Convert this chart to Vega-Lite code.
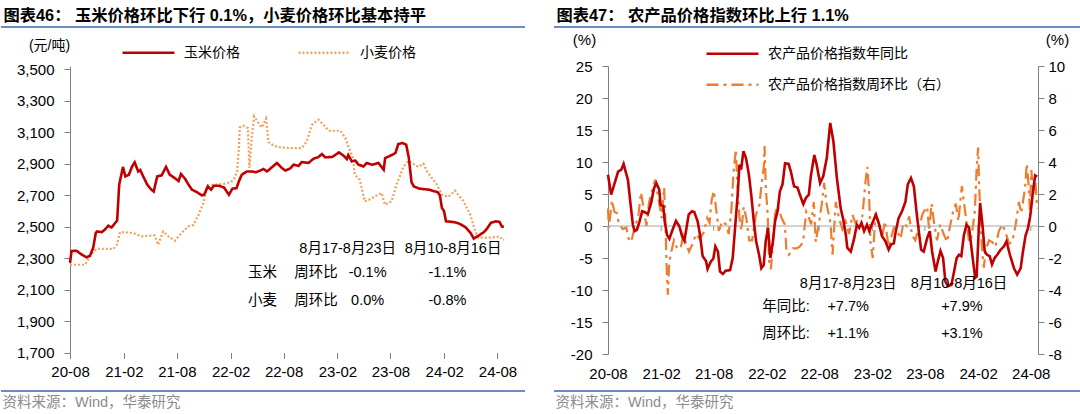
{
"$schema":"https://vega.github.io/schema/vega-lite/v6.json",
"background":"white",
"padding":{"left":0,"top":8,"right":0,"bottom":0},
"datasets":{
"corn":[{"d":"2020-08-01","v":2270},{"d":"2020-08-06","v":2345},{"d":"2020-08-23","v":2347},{"d":"2020-09-10","v":2322},{"d":"2020-09-27","v":2305},{"d":"2020-10-08","v":2315},{"d":"2020-10-19","v":2365},{"d":"2020-10-28","v":2460},{"d":"2020-11-02","v":2470},{"d":"2020-11-17","v":2465},{"d":"2020-11-28","v":2481},{"d":"2020-12-10","v":2506},{"d":"2020-12-21","v":2495},{"d":"2021-01-05","v":2530},{"d":"2021-01-09","v":2540},{"d":"2021-01-16","v":2767},{"d":"2021-01-29","v":2880},{"d":"2021-02-06","v":2820},{"d":"2021-02-18","v":2830},{"d":"2021-03-01","v":2883},{"d":"2021-03-10","v":2909},{"d":"2021-03-22","v":2851},{"d":"2021-03-29","v":2860},{"d":"2021-04-08","v":2820},{"d":"2021-04-22","v":2767},{"d":"2021-05-06","v":2735},{"d":"2021-05-14","v":2724},{"d":"2021-05-26","v":2820},{"d":"2021-06-10","v":2826},{"d":"2021-06-25","v":2880},{"d":"2021-07-08","v":2830},{"d":"2021-07-20","v":2815},{"d":"2021-08-01","v":2799},{"d":"2021-08-07","v":2790},{"d":"2021-08-15","v":2835},{"d":"2021-08-29","v":2805},{"d":"2021-09-10","v":2767},{"d":"2021-09-22","v":2735},{"d":"2021-10-08","v":2720},{"d":"2021-10-26","v":2699},{"d":"2021-11-03","v":2705},{"d":"2021-11-15","v":2756},{"d":"2021-11-26","v":2735},{"d":"2021-12-05","v":2760},{"d":"2021-12-22","v":2760},{"d":"2022-01-09","v":2750},{"d":"2022-01-26","v":2703},{"d":"2022-02-07","v":2742},{"d":"2022-02-21","v":2745},{"d":"2022-03-01","v":2788},{"d":"2022-03-11","v":2830},{"d":"2022-03-28","v":2851},{"d":"2022-04-14","v":2851},{"d":"2022-04-29","v":2846},{"d":"2022-05-13","v":2857},{"d":"2022-05-24","v":2867},{"d":"2022-06-05","v":2851},{"d":"2022-06-19","v":2873},{"d":"2022-07-09","v":2905},{"d":"2022-07-26","v":2873},{"d":"2022-08-07","v":2857},{"d":"2022-08-23","v":2870},{"d":"2022-09-04","v":2894},{"d":"2022-09-21","v":2886},{"d":"2022-10-02","v":2911},{"d":"2022-10-25","v":2905},{"d":"2022-11-11","v":2932},{"d":"2022-11-28","v":2943},{"d":"2022-12-10","v":2962},{"d":"2022-12-21","v":2941},{"d":"2023-01-14","v":2943},{"d":"2023-02-06","v":2972},{"d":"2023-02-23","v":2950},{"d":"2023-03-05","v":2930},{"d":"2023-03-10","v":2955},{"d":"2023-03-22","v":2915},{"d":"2023-04-03","v":2920},{"d":"2023-04-14","v":2894},{"d":"2023-05-01","v":2883},{"d":"2023-05-12","v":2905},{"d":"2023-05-30","v":2894},{"d":"2023-06-21","v":2905},{"d":"2023-07-09","v":2862},{"d":"2023-07-14","v":2936},{"d":"2023-08-07","v":2957},{"d":"2023-08-18","v":2968},{"d":"2023-08-28","v":3026},{"d":"2023-09-11","v":3032},{"d":"2023-09-24","v":3021},{"d":"2023-10-03","v":2936},{"d":"2023-10-12","v":2784},{"d":"2023-10-20","v":2756},{"d":"2023-11-07","v":2742},{"d":"2023-12-11","v":2735},{"d":"2024-01-09","v":2720},{"d":"2024-01-17","v":2700},{"d":"2024-01-24","v":2619},{"d":"2024-01-31","v":2600},{"d":"2024-02-07","v":2534},{"d":"2024-03-01","v":2530},{"d":"2024-03-17","v":2524},{"d":"2024-03-28","v":2515},{"d":"2024-04-14","v":2496},{"d":"2024-05-01","v":2460},{"d":"2024-05-12","v":2424},{"d":"2024-05-30","v":2445},{"d":"2024-06-16","v":2466},{"d":"2024-06-27","v":2490},{"d":"2024-07-09","v":2524},{"d":"2024-07-26","v":2534},{"d":"2024-08-08","v":2530},{"d":"2024-08-16","v":2501},{"d":"2024-08-23","v":2499}],
"wheat":[{"d":"2020-08-01","v":2258},{"d":"2020-09-21","v":2258},{"d":"2020-10-08","v":2311},{"d":"2020-10-31","v":2360},{"d":"2020-12-27","v":2358},{"d":"2021-01-08","v":2385},{"d":"2021-01-19","v":2466},{"d":"2021-03-04","v":2460},{"d":"2021-04-02","v":2439},{"d":"2021-05-17","v":2445},{"d":"2021-05-29","v":2385},{"d":"2021-06-15","v":2470},{"d":"2021-07-02","v":2440},{"d":"2021-07-25","v":2411},{"d":"2021-08-17","v":2460},{"d":"2021-09-09","v":2502},{"d":"2021-09-27","v":2512},{"d":"2021-10-14","v":2576},{"d":"2021-10-31","v":2650},{"d":"2021-11-12","v":2761},{"d":"2021-12-05","v":2767},{"d":"2022-01-08","v":2772},{"d":"2022-01-31","v":2783},{"d":"2022-02-12","v":2799},{"d":"2022-02-23","v":2851},{"d":"2022-03-01","v":3000},{"d":"2022-03-04","v":3131},{"d":"2022-03-16","v":3142},{"d":"2022-04-01","v":3127},{"d":"2022-04-06","v":2873},{"d":"2022-04-14","v":3064},{"d":"2022-04-22","v":3201},{"d":"2022-05-07","v":3159},{"d":"2022-05-18","v":3131},{"d":"2022-06-02","v":3187},{"d":"2022-06-10","v":3038},{"d":"2022-06-27","v":3017},{"d":"2022-07-20","v":3004},{"d":"2022-08-18","v":3000},{"d":"2022-10-02","v":3000},{"d":"2022-10-19","v":3042},{"d":"2022-11-06","v":3148},{"d":"2022-11-28","v":3180},{"d":"2022-12-14","v":3150},{"d":"2023-01-02","v":3110},{"d":"2023-02-11","v":3110},{"d":"2023-02-28","v":3064},{"d":"2023-03-09","v":3015},{"d":"2023-03-26","v":2937},{"d":"2023-04-01","v":2831},{"d":"2023-04-18","v":2799},{"d":"2023-05-05","v":2661},{"d":"2023-05-19","v":2670},{"d":"2023-06-09","v":2693},{"d":"2023-07-02","v":2714},{"d":"2023-07-13","v":2640},{"d":"2023-08-05","v":2661},{"d":"2023-08-22","v":2767},{"d":"2023-09-15","v":2883},{"d":"2023-10-01","v":2918},{"d":"2023-10-18","v":2901},{"d":"2023-11-04","v":2880},{"d":"2023-11-22","v":2901},{"d":"2023-12-04","v":2851},{"d":"2024-01-07","v":2767},{"d":"2024-01-24","v":2703},{"d":"2024-02-15","v":2690},{"d":"2024-03-09","v":2729},{"d":"2024-03-21","v":2700},{"d":"2024-04-07","v":2661},{"d":"2024-04-30","v":2576},{"d":"2024-05-17","v":2470},{"d":"2024-05-28","v":2430},{"d":"2024-07-02","v":2430},{"d":"2024-08-09","v":2437},{"d":"2024-08-16","v":2418},{"d":"2024-08-23","v":2418}],
"ltext":[{"t":"8月17-8月23日","d":"2023-03-08","v":2360},{"t":"8月10-8月16日","d":"2024-03-02","v":2360},{"t":"玉米","d":"2022-05-21","v":2208},{"t":"周环比","d":"2022-11-20","v":2208},{"t":"-0.1%","d":"2023-05-15","v":2208},{"t":"-1.1%","d":"2024-02-12","v":2208},{"t":"小麦","d":"2022-05-21","v":2030},{"t":"周环比","d":"2022-11-20","v":2030},{"t":"0.0%","d":"2023-05-15","v":2030},{"t":"-0.8%","d":"2024-02-12","v":2030}],
"yoy":[{"d":"2020-08-01","v":8.0},{"d":"2020-08-12","v":4.9},{"d":"2020-08-24","v":6.7},{"d":"2020-09-05","v":8.5},{"d":"2020-09-16","v":8.8},{"d":"2020-09-24","v":9.7},{"d":"2020-10-01","v":8.5},{"d":"2020-10-09","v":7.2},{"d":"2020-10-17","v":3.8},{"d":"2020-10-26","v":0.2},{"d":"2020-11-01","v":-0.8},{"d":"2020-11-09","v":-0.6},{"d":"2020-11-18","v":0.7},{"d":"2020-11-27","v":2.3},{"d":"2020-12-09","v":2.1},{"d":"2020-12-17","v":1.9},{"d":"2020-12-28","v":3.6},{"d":"2021-01-07","v":5.9},{"d":"2021-01-15","v":6.7},{"d":"2021-01-25","v":5.7},{"d":"2021-01-30","v":3.3},{"d":"2021-02-08","v":3.1},{"d":"2021-02-13","v":0.7},{"d":"2021-02-21","v":-1.4},{"d":"2021-03-01","v":-2.0},{"d":"2021-03-12","v":-0.6},{"d":"2021-03-24","v":0.8},{"d":"2021-04-05","v":-0.1},{"d":"2021-04-14","v":-1.6},{"d":"2021-04-22","v":-2.3},{"d":"2021-05-07","v":1.8},{"d":"2021-05-18","v":2.3},{"d":"2021-05-26","v":2.2},{"d":"2021-06-07","v":0.7},{"d":"2021-06-15","v":-1.4},{"d":"2021-06-24","v":-4.7},{"d":"2021-07-06","v":-5.5},{"d":"2021-07-11","v":-6.7},{"d":"2021-07-23","v":-5.5},{"d":"2021-07-31","v":-5.1},{"d":"2021-08-07","v":-3.2},{"d":"2021-08-16","v":-4.0},{"d":"2021-08-23","v":-7.1},{"d":"2021-09-02","v":-7.5},{"d":"2021-09-11","v":-7.0},{"d":"2021-09-27","v":-6.9},{"d":"2021-10-06","v":-5.0},{"d":"2021-10-15","v":0.2},{"d":"2021-10-24","v":5.4},{"d":"2021-10-29","v":9.6},{"d":"2021-11-04","v":8.8},{"d":"2021-11-12","v":11.7},{"d":"2021-11-21","v":10.6},{"d":"2021-12-01","v":8.0},{"d":"2021-12-09","v":4.9},{"d":"2021-12-18","v":0.7},{"d":"2021-12-26","v":-2.4},{"d":"2022-01-05","v":-4.5},{"d":"2022-01-13","v":-6.6},{"d":"2022-01-21","v":-6.1},{"d":"2022-01-28","v":-2.4},{"d":"2022-02-05","v":-0.3},{"d":"2022-02-13","v":-5.0},{"d":"2022-02-22","v":-2.4},{"d":"2022-03-01","v":0.7},{"d":"2022-03-10","v":2.3},{"d":"2022-03-18","v":5.4},{"d":"2022-03-27","v":6.5},{"d":"2022-04-05","v":9.8},{"d":"2022-04-17","v":9.7},{"d":"2022-04-25","v":8.5},{"d":"2022-05-06","v":6.2},{"d":"2022-05-18","v":6.0},{"d":"2022-05-26","v":4.9},{"d":"2022-06-07","v":3.4},{"d":"2022-06-16","v":4.4},{"d":"2022-06-26","v":4.9},{"d":"2022-07-03","v":7.8},{"d":"2022-07-15","v":11.1},{"d":"2022-07-23","v":9.6},{"d":"2022-08-04","v":6.7},{"d":"2022-08-15","v":7.8},{"d":"2022-08-27","v":10.6},{"d":"2022-09-08","v":16.1},{"d":"2022-09-19","v":13.2},{"d":"2022-10-01","v":7.5},{"d":"2022-10-14","v":2.8},{"d":"2022-10-23","v":1.0},{"d":"2022-11-01","v":-1.4},{"d":"2022-11-06","v":-3.4},{"d":"2022-11-18","v":-4.0},{"d":"2022-11-30","v":-1.9},{"d":"2022-12-09","v":0.2},{"d":"2022-12-17","v":-0.3},{"d":"2022-12-25","v":0.5},{"d":"2023-01-03","v":-0.8},{"d":"2023-01-13","v":0.2},{"d":"2023-01-21","v":-0.8},{"d":"2023-02-01","v":0.5},{"d":"2023-02-13","v":1.8},{"d":"2023-02-24","v":0.2},{"d":"2023-03-06","v":-1.6},{"d":"2023-03-18","v":-2.4},{"d":"2023-03-29","v":-3.7},{"d":"2023-04-06","v":-2.9},{"d":"2023-04-16","v":-2.7},{"d":"2023-04-21","v":-1.2},{"d":"2023-05-02","v":1.2},{"d":"2023-05-14","v":2.3},{"d":"2023-05-26","v":3.8},{"d":"2023-06-03","v":6.5},{"d":"2023-06-14","v":7.5},{"d":"2023-06-24","v":6.2},{"d":"2023-07-03","v":2.3},{"d":"2023-07-11","v":-0.8},{"d":"2023-07-19","v":-3.7},{"d":"2023-07-28","v":-4.0},{"d":"2023-08-09","v":-1.9},{"d":"2023-08-18","v":-0.8},{"d":"2023-08-26","v":-4.0},{"d":"2023-09-07","v":-7.1},{"d":"2023-09-15","v":-5.5},{"d":"2023-09-24","v":-3.9},{"d":"2023-10-03","v":-5.0},{"d":"2023-10-11","v":-8.7},{"d":"2023-10-20","v":-9.4},{"d":"2023-11-01","v":-9.2},{"d":"2023-11-10","v":-7.1},{"d":"2023-11-19","v":-5.0},{"d":"2023-11-27","v":-4.5},{"d":"2023-12-05","v":-4.7},{"d":"2023-12-14","v":-1.4},{"d":"2023-12-23","v":0.2},{"d":"2024-01-01","v":-0.3},{"d":"2024-01-09","v":-3.4},{"d":"2024-01-16","v":-6.0},{"d":"2024-01-22","v":-8.1},{"d":"2024-01-27","v":-7.9},{"d":"2024-02-03","v":-0.8},{"d":"2024-02-08","v":3.6},{"d":"2024-02-16","v":0.2},{"d":"2024-02-24","v":-4.0},{"d":"2024-03-03","v":-4.5},{"d":"2024-03-12","v":-4.7},{"d":"2024-03-20","v":-6.0},{"d":"2024-03-29","v":-5.0},{"d":"2024-04-07","v":-4.5},{"d":"2024-04-19","v":-3.7},{"d":"2024-04-30","v":-3.2},{"d":"2024-05-09","v":-2.4},{"d":"2024-05-21","v":-4.5},{"d":"2024-06-04","v":-6.6},{"d":"2024-06-15","v":-7.6},{"d":"2024-06-27","v":-6.6},{"d":"2024-07-05","v":-4.0},{"d":"2024-07-14","v":-1.5},{"d":"2024-07-22","v":-0.4},{"d":"2024-07-30","v":1.5},{"d":"2024-08-08","v":5.1},{"d":"2024-08-16","v":7.9},{"d":"2024-08-23","v":7.7}],
"wow":[{"d":"2020-08-01","v":1.1},{"d":"2020-08-04","v":-0.1},{"d":"2020-08-15","v":1.6},{"d":"2020-08-23","v":0.9},{"d":"2020-09-01","v":0.8},{"d":"2020-09-07","v":0.2},{"d":"2020-09-21","v":-0.2},{"d":"2020-10-03","v":-0.1},{"d":"2020-10-14","v":-1.0},{"d":"2020-10-23","v":-0.8},{"d":"2020-11-02","v":0.0},{"d":"2020-11-13","v":0.5},{"d":"2020-11-23","v":2.1},{"d":"2020-12-03","v":1.0},{"d":"2020-12-12","v":0.0},{"d":"2020-12-21","v":1.5},{"d":"2021-01-02","v":2.3},{"d":"2021-01-11","v":2.9},{"d":"2021-01-16","v":2.4},{"d":"2021-01-24","v":1.5},{"d":"2021-02-03","v":0.5},{"d":"2021-02-11","v":2.4},{"d":"2021-02-15","v":0.5},{"d":"2021-02-20","v":-2.8},{"d":"2021-02-24","v":-4.3},{"d":"2021-02-28","v":-2.5},{"d":"2021-03-05","v":-1.8},{"d":"2021-03-17","v":-0.9},{"d":"2021-03-28","v":-1.4},{"d":"2021-04-09","v":-1.4},{"d":"2021-04-18","v":-0.6},{"d":"2021-04-26","v":-1.0},{"d":"2021-05-08","v":-1.6},{"d":"2021-05-21","v":-1.1},{"d":"2021-06-01","v":-0.5},{"d":"2021-06-14","v":-0.8},{"d":"2021-06-28","v":-0.4},{"d":"2021-07-10","v":0.5},{"d":"2021-07-18","v":0.2},{"d":"2021-07-25","v":1.6},{"d":"2021-08-02","v":2.2},{"d":"2021-08-08","v":1.3},{"d":"2021-08-19","v":-0.3},{"d":"2021-08-31","v":0.3},{"d":"2021-09-13","v":0.1},{"d":"2021-09-22","v":-0.5},{"d":"2021-10-01","v":0.9},{"d":"2021-10-09","v":3.4},{"d":"2021-10-17","v":4.8},{"d":"2021-10-22","v":2.6},{"d":"2021-10-29","v":0.6},{"d":"2021-11-05","v":-0.3},{"d":"2021-11-13","v":1.2},{"d":"2021-11-22","v":0.5},{"d":"2021-12-02","v":-0.9},{"d":"2021-12-12","v":-0.9},{"d":"2021-12-25","v":0.7},{"d":"2022-01-06","v":1.3},{"d":"2022-01-15","v":2.8},{"d":"2022-01-22","v":3.8},{"d":"2022-01-24","v":5.0},{"d":"2022-01-29","v":2.2},{"d":"2022-02-04","v":0.7},{"d":"2022-02-09","v":-2.2},{"d":"2022-02-15","v":-2.7},{"d":"2022-02-21","v":-1.3},{"d":"2022-03-01","v":0.7},{"d":"2022-03-10","v":1.3},{"d":"2022-03-24","v":0.5},{"d":"2022-04-04","v":0.1},{"d":"2022-04-10","v":-1.6},{"d":"2022-04-18","v":-1.8},{"d":"2022-05-02","v":-1.4},{"d":"2022-05-14","v":-1.4},{"d":"2022-05-25","v":-1.3},{"d":"2022-06-06","v":-1.0},{"d":"2022-06-17","v":0.9},{"d":"2022-06-25","v":0.6},{"d":"2022-07-04","v":0.1},{"d":"2022-07-13","v":1.5},{"d":"2022-07-20","v":-1.0},{"d":"2022-08-01","v":0.3},{"d":"2022-08-10","v":1.4},{"d":"2022-08-18","v":2.7},{"d":"2022-08-26","v":1.4},{"d":"2022-09-02","v":0.8},{"d":"2022-09-09","v":0.2},{"d":"2022-09-16","v":-1.8},{"d":"2022-09-27","v":1.5},{"d":"2022-10-08","v":0.5},{"d":"2022-10-20","v":-0.2},{"d":"2022-10-31","v":0.3},{"d":"2022-11-12","v":-0.5},{"d":"2022-11-24","v":0.7},{"d":"2022-12-04","v":0.2},{"d":"2022-12-14","v":0.4},{"d":"2022-12-28","v":0.6},{"d":"2023-01-08","v":2.8},{"d":"2023-01-14","v":3.7},{"d":"2023-01-20","v":2.2},{"d":"2023-01-25","v":-1.0},{"d":"2023-02-02","v":-2.0},{"d":"2023-02-11","v":0.6},{"d":"2023-02-22","v":0.3},{"d":"2023-03-06","v":-0.7},{"d":"2023-03-16","v":0.3},{"d":"2023-03-29","v":-1.3},{"d":"2023-04-16","v":-0.1},{"d":"2023-04-27","v":-0.3},{"d":"2023-05-09","v":-0.8},{"d":"2023-05-19","v":0.2},{"d":"2023-05-30","v":0.0},{"d":"2023-06-08","v":0.6},{"d":"2023-06-18","v":-0.6},{"d":"2023-06-29","v":-0.9},{"d":"2023-07-11","v":-0.1},{"d":"2023-07-25","v":0.8},{"d":"2023-08-09","v":1.2},{"d":"2023-08-16","v":-0.3},{"d":"2023-08-24","v":1.4},{"d":"2023-09-02","v":0.2},{"d":"2023-09-12","v":-0.9},{"d":"2023-09-23","v":0.1},{"d":"2023-10-05","v":-0.5},{"d":"2023-10-17","v":-1.0},{"d":"2023-10-27","v":0.0},{"d":"2023-11-08","v":1.0},{"d":"2023-11-16","v":1.4},{"d":"2023-11-25","v":0.3},{"d":"2023-12-07","v":2.5},{"d":"2023-12-14","v":1.5},{"d":"2023-12-21","v":0.5},{"d":"2024-01-01","v":-1.0},{"d":"2024-01-10","v":-0.6},{"d":"2024-01-21","v":1.0},{"d":"2024-01-27","v":3.6},{"d":"2024-02-01","v":4.9},{"d":"2024-02-04","v":2.8},{"d":"2024-02-10","v":0.1},{"d":"2024-02-16","v":-1.8},{"d":"2024-02-21","v":-2.6},{"d":"2024-02-27","v":-1.5},{"d":"2024-03-10","v":-0.9},{"d":"2024-03-21","v":-1.0},{"d":"2024-04-01","v":-1.3},{"d":"2024-04-13","v":-0.3},{"d":"2024-04-25","v":0.1},{"d":"2024-05-06","v":-0.4},{"d":"2024-05-18","v":-1.1},{"d":"2024-05-29","v":-1.0},{"d":"2024-06-10","v":0.1},{"d":"2024-06-21","v":1.5},{"d":"2024-06-29","v":0.8},{"d":"2024-07-05","v":1.5},{"d":"2024-07-13","v":2.5},{"d":"2024-07-18","v":3.9},{"d":"2024-07-24","v":2.7},{"d":"2024-07-29","v":1.0},{"d":"2024-08-03","v":3.5},{"d":"2024-08-09","v":2.0},{"d":"2024-08-16","v":3.1},{"d":"2024-08-23","v":1.1}],
"rtext":[{"t":"8月17-8月23日","d":"2022-11-09","v":-9.1},{"t":"8月10-8月16日","d":"2023-11-27","v":-9.1},{"t":"年同比:","d":"2022-04-08","v":-12.7},{"t":"+7.7%","d":"2022-11-09","v":-12.7},{"t":"+7.9%","d":"2023-12-07","v":-12.7},{"t":"周环比:","d":"2022-04-08","v":-16.8},{"t":"+1.1%","d":"2022-11-09","v":-16.8},{"t":"+3.1%","d":"2023-12-07","v":-16.8}],
"zticks":[{"d":"2020-08-01"},{"d":"2021-02-01"},{"d":"2021-08-01"},{"d":"2022-02-01"},{"d":"2022-08-01"},{"d":"2023-02-01"},{"d":"2023-08-01"},{"d":"2024-02-01"},{"d":"2024-08-01"}]
},
"columns":2,
"spacing":{"row":4,"column":28},
"align":"each",
"bounds":"full",
"resolve":{"scale":{"color":"independent","strokeDash":"independent"}},
"concat":[
{"width":524,"height":2,"data":{"values":[{}]},"mark":{"type":"rule","opacity":0},"encoding":{},"view":{"fill":"#6b8cc0","stroke":null},
 "title":{"text":"图表46： 玉米价格环比下行 0.1%，小麦价格环比基本持平","anchor":"start","dx":3,"offset":1}},
{"width":528,"height":2,"data":{"values":[{}]},"mark":{"type":"rule","opacity":0},"encoding":{},"view":{"fill":"#6b8cc0","stroke":null},
 "title":{"text":"图表47： 农产品价格指数环比上行 1.1%","anchor":"start","dx":3,"offset":1}},
{"width":524,"height":286.5,
 "encoding":{"x":{"field":"d","type":"temporal",
   "scale":{"type":"utc","domain":[{"year":2019,"month":12,"date":9,"utc":true},{"year":2024,"month":11,"date":3,"utc":true}]},
   "axis":{"values":[{"year":2020,"month":8,"date":1,"utc":true},{"year":2021,"month":2,"date":1,"utc":true},{"year":2021,"month":8,"date":1,"utc":true},{"year":2022,"month":2,"date":1,"utc":true},{"year":2022,"month":8,"date":1,"utc":true},{"year":2023,"month":2,"date":1,"utc":true},{"year":2023,"month":8,"date":1,"utc":true},{"year":2024,"month":2,"date":1,"utc":true},{"year":2024,"month":8,"date":1,"utc":true}],
     "format":"%y-%m","labelFlush":false,"labelOverlap":false,"tickCount":30,"domain":false,"tickSize":6,"labelPadding":6,
     "title":"\u00a0","titleX":0,"titleY":-319.8,"titleAlign":"left","titleBaseline":"top","titleFontSize":4}}},
 "layer":[
  {"data":{"name":"wheat"},"mark":{"type":"line","strokeWidth":2.2,"strokeCap":"butt"},
   "encoding":{"y":{"field":"v","type":"quantitative","scale":{"domain":[1700,3521.6],"nice":false,"zero":false},
     "axis":{"values":[1700,1900,2100,2300,2500,2700,2900,3100,3300,3500],"tickCount":30,"format":",d","offset":-69,"tickSize":6,"labelPadding":10,"labelOverlap":false,
       "title":"(元/吨)","titleAngle":0,"titleX":-21,"titleY":-20.3,"titleAlign":"center","titleBaseline":"middle","titleFontSize":14}},
    "color":{"datum":"小麦价格","scale":{"domain":["玉米价格","小麦价格"],"range":["#c00000","#f5a05a"]},
      "legend":{"title":null,"orient":"none","legendX":120,"legendY":-21.3,"direction":"horizontal","columnPadding":57}},
    "strokeDash":{"datum":"小麦价格","scale":{"domain":["玉米价格","小麦价格"],"range":[[1,0],[2,2]]},
      "legend":{"title":null,"orient":"none","legendX":120,"legendY":-21.3,"direction":"horizontal","columnPadding":57}}}},
  {"data":{"name":"corn"},"mark":{"type":"line","strokeWidth":2.6},
   "encoding":{"y":{"field":"v","type":"quantitative"},"color":{"datum":"玉米价格"},"strokeDash":{"datum":"玉米价格"}}},
  {"data":{"name":"ltext"},"mark":{"type":"text","fontSize":14.5,"font":"Liberation Sans, Noto Sans CJK SC","color":"#000","align":"center","baseline":"middle"},
   "encoding":{"y":{"field":"v","type":"quantitative"},"text":{"field":"t"}}},
  {"data":{"values":[{}]},"mark":{"type":"rule","color":"#808080","strokeWidth":1},
   "encoding":{"x":{"datum":{"year":2020,"month":8,"date":1,"utc":true},"type":"temporal"},"x2":{"datum":{"year":2024,"month":8,"date":24,"utc":true}},"y":{"datum":1700,"type":"quantitative"}}}
 ]},
{"width":484,"height":288,
 "layer":[
  {"layer":[
    {"data":{"name":"wow"},"mark":{"type":"line","strokeWidth":2.2,"strokeCap":"butt"},
     "encoding":{"x":{"field":"d","type":"temporal",
       "scale":{"type":"utc","domain":[{"year":2020,"month":1,"date":27,"hours":10,"utc":true},{"year":2024,"month":8,"date":26,"utc":true}]},
       "axis":{"values":[{"year":2020,"month":8,"date":1,"utc":true},{"year":2021,"month":2,"date":1,"utc":true},{"year":2021,"month":8,"date":1,"utc":true},{"year":2022,"month":2,"date":1,"utc":true},{"year":2022,"month":8,"date":1,"utc":true},{"year":2023,"month":2,"date":1,"utc":true},{"year":2023,"month":8,"date":1,"utc":true},{"year":2024,"month":2,"date":1,"utc":true},{"year":2024,"month":8,"date":1,"utc":true}],
         "format":"%y-%m","labelFlush":false,"labelOverlap":false,"tickCount":30,"domain":false,"ticks":false,"tickSize":0,"labelPadding":12,
         "title":"\u00a0","titleX":60,"titleY":30.7,"titleAlign":"left","titleBaseline":"bottom","titleFontSize":4}},
      "y":{"field":"v","type":"quantitative","scale":{"domain":[-8,10],"nice":false,"zero":false},
       "axis":{"orient":"right","values":[-8,-6,-4,-2,0,2,4,6,8,10],"tickCount":30,"format":"d","tickSize":6,"labelPadding":4,"labelOverlap":false,
         "labelExpr":"replace(datum.label, '\u2212', '-')",
         "title":"(%)","titleAngle":0,"titleX":19,"titleY":-33.3,"titleAlign":"center","titleBaseline":"top","titleFontSize":15}},
      "color":{"datum":"农产品价格指数周环比（右）","scale":{"domain":["农产品价格指数年同比","农产品价格指数周环比（右）"],"range":["#c00000","#ed7d31"]},
        "legend":{"title":null,"orient":"none","legendX":151,"legendY":-20.3,"direction":"vertical","rowPadding":15}},
      "strokeDash":{"datum":"农产品价格指数周环比（右）","scale":{"domain":["农产品价格指数年同比","农产品价格指数周环比（右）"],"range":[[1,0],[12,5,3,5]]},
        "legend":{"title":null,"orient":"none","legendX":151,"legendY":-20.3,"direction":"vertical","rowPadding":15}}}},
    {"data":{"values":[{}]},"mark":{"type":"rule","color":"#a6a6a6","strokeWidth":1.2},
     "encoding":{"x":{"datum":{"year":2020,"month":8,"date":1,"utc":true},"type":"temporal"},"x2":{"datum":{"year":2024,"month":8,"date":26,"utc":true}},"y":{"datum":0,"type":"quantitative"}}},
    {"data":{"name":"zticks"},"mark":{"type":"rule","color":"#a6a6a6","strokeWidth":1.2},
     "encoding":{"x":{"field":"d","type":"temporal"},"y":{"datum":0,"type":"quantitative"},"y2":{"datum":-0.32}}}
  ]},
  {"encoding":{"x":{"field":"d","type":"temporal"}},
   "layer":[
    {"data":{"name":"yoy"},"mark":{"type":"line","strokeWidth":2.6},
     "encoding":{"y":{"field":"v","type":"quantitative","scale":{"domain":[-20,25],"nice":false,"zero":false},
       "axis":{"orient":"left","values":[-20,-15,-10,-5,0,5,10,15,20,25],"tickCount":30,"format":"d","offset":-54,"tickSize":6,"labelPadding":10,"labelOverlap":false,
         "labelExpr":"replace(datum.label, '\u2212', '-')",
         "title":"(%)","titleAngle":0,"titleX":-24,"titleY":-33.3,"titleAlign":"center","titleBaseline":"top","titleFontSize":15}},
      "color":{"datum":"农产品价格指数年同比"},
      "strokeDash":{"datum":"农产品价格指数年同比"}}},
    {"data":{"name":"rtext"},"mark":{"type":"text","fontSize":14.5,"font":"Liberation Sans, Noto Sans CJK SC","color":"#000","align":"center","baseline":"middle"},
     "encoding":{"y":{"field":"v","type":"quantitative"},"text":{"field":"t"}}}
   ]}
 ],
 "resolve":{"scale":{"y":"independent"}}},
{"width":524,"height":2,"data":{"values":[{}]},"mark":{"type":"rule","opacity":0},"encoding":{},"view":{"fill":"#6b8cc0","stroke":null},
 "title":{"text":"资料来源：Wind，华泰研究","orient":"bottom","anchor":"start","dx":2,"offset":4,"fontSize":14.5,"fontWeight":"normal","color":"#8c8c8c"}},
{"width":528,"height":2,"data":{"values":[{}]},"mark":{"type":"rule","opacity":0},"encoding":{},"view":{"fill":"#6b8cc0","stroke":null},
 "title":{"text":"资料来源：Wind，华泰研究","orient":"bottom","anchor":"start","dx":2,"offset":4,"fontSize":14.5,"fontWeight":"normal","color":"#8c8c8c"}}
],
"config":{
 "font":"Liberation Sans, Noto Sans CJK SC",
 "view":{"stroke":null},
 "title":{"font":"Liberation Sans, Noto Sans CJK SC","fontSize":16.3,"fontWeight":"bold","color":"#000"},
 "axis":{"labelFont":"Liberation Sans","labelFontSize":15,"labelColor":"#000","domainColor":"#808080","tickColor":"#808080","grid":false,
   "titleFont":"Liberation Sans, Noto Sans CJK SC","titleFontWeight":"normal","titleColor":"#000","titlePadding":0},
 "legend":{"symbolType":"stroke","symbolSize":2704,"symbolStrokeWidth":2.5,"clipHeight":16,"labelOffset":8,
   "labelFont":"Noto Sans CJK SC","labelFontSize":14,"labelColor":"#000","labelLimit":400}
}
}
